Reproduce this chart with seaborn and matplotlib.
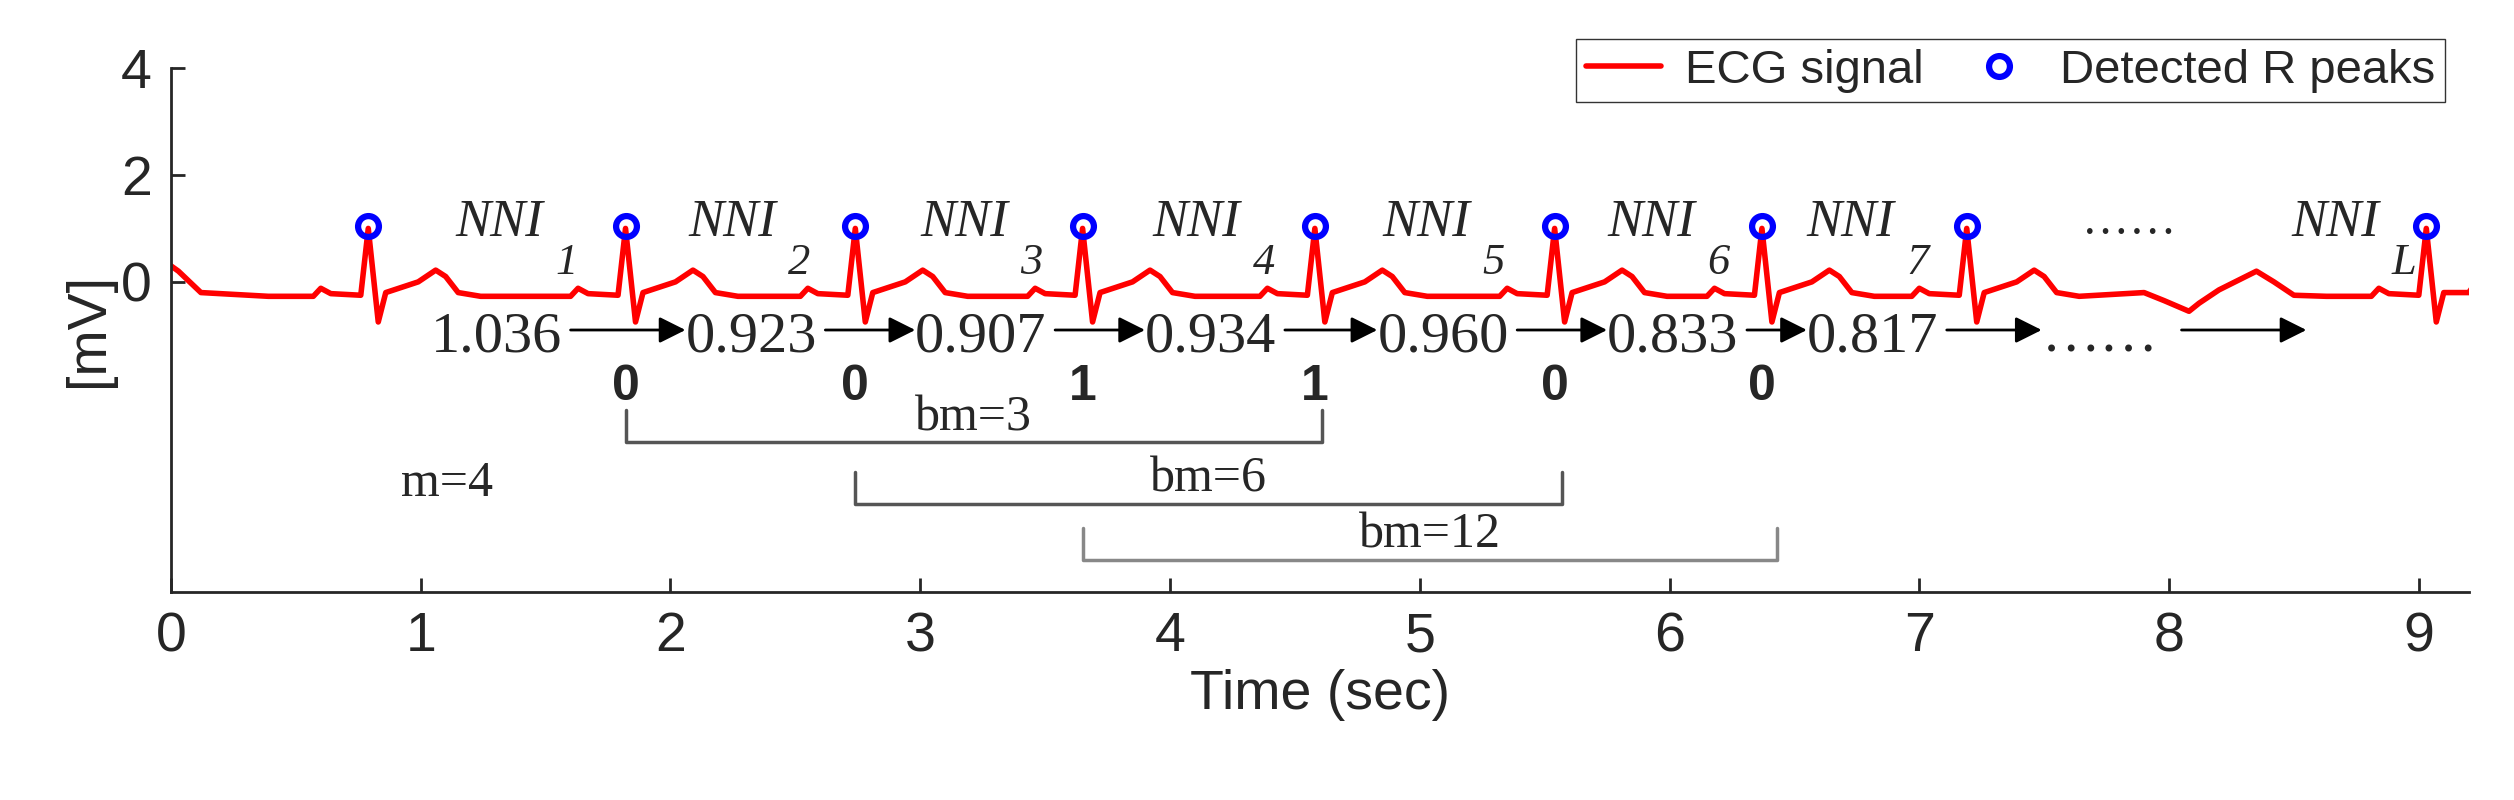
import numpy as np
import pandas as pd
import seaborn as sns
import matplotlib.pyplot as plt

sns.set_style('ticks')
plt.rcParams['font.family'] = ['Liberation Sans', 'DejaVu Sans']

# R peak times (sec) and amplitudes (mV)
r_times = [0.79, 1.82, 2.74, 3.65, 4.58, 5.54, 6.37, 7.19, 9.03]
r_vals = [1.0, 1.0, 1.0, 1.0, 1.0, 1.0, 1.0, 1.0, 1.0]
# one beat: offset from R peak (sec), value (mV)
beat_dt = [-0.40, -0.22, -0.19, -0.15, -0.03, 0.0, 0.04, 0.07, 0.20, 0.27, 0.31, 0.36, 0.45]
beat_v = [-0.27, -0.27, -0.12, -0.22, -0.25, 1.0, -0.75, -0.2, 0.0, 0.22, 0.1, -0.2, -0.27]
start_t = [0.0, 0.03, 0.12]
start_v = [0.3, 0.2, -0.2]
# irregular stretch between 7.6 and 8.6 sec (undetected beat)
gap_t = [7.9, 7.98, 8.08, 8.12, 8.2, 8.35, 8.42, 8.5]
gap_v = [-0.2, -0.35, -0.55, -0.4, -0.15, 0.2, 0.0, -0.25]
end_t = [9.2]
end_v = [-0.2]

nni_labels = ['1', '2', '3', '4', '5', '6', '7']
nni_x = [1.14, 2.07, 3.0, 3.93, 4.85, 5.75, 6.55]
nni_values = ['1.036', '0.923', '0.907', '0.934', '0.960', '0.833', '0.817', '……']
nni_val_x = [1.04, 2.06, 2.98, 3.90, 4.83, 5.75, 6.55, 7.49]
bits = ['0', '0', '1', '1', '0', '0']
bm_labels = ['bm=3', 'bm=6', 'bm=12']
bm_start = [1.82, 2.74, 3.65]
bm_end = [4.61, 5.57, 6.43]
bm_y = [-3.0, -4.15, -5.2]
bm_colors = ['#555555', '#555555', '#888888']

# assemble signal
t, v = list(start_t), list(start_v)
for rt, rv in zip(r_times, r_vals):
    if rt > 8.6:
        t += gap_t
        v += gap_v
    for dt, bv in zip(beat_dt, beat_v):
        tt = rt + dt
        if tt > t[-1]:
            t.append(tt)
            v.append(bv * rv if bv > 0.9 else bv)
t += end_t
v += end_v
sig = pd.DataFrame({'t': t, 'v': v})
peaks = pd.DataFrame({'t': r_times, 'v': [x + 0.05 for x in r_vals]})

fig, ax = plt.subplots(figsize=(25.14, 8), dpi=100)
fig.subplots_adjust(left=0.068, right=0.982, top=0.915, bottom=0.26)
sns.lineplot(data=sig, x='t', y='v', color='red', lw=4, ax=ax, label='ECG signal')
ax.plot(peaks['t'], peaks['v'], 'o', ms=15, mfc='none', mec='blue', mew=4.5,
        label='Detected R peaks')

serif = ['Liberation Serif', 'DejaVu Serif']
for lab, x in zip(nni_labels, nni_x):
    ax.text(x, 0.85, 'NNI', fontsize=38, family=serif, style='italic')
    ax.text(x + 0.4, 0.15, lab, fontsize=32, family=serif, style='italic')
ax.text(8.49, 0.85, 'NNI', fontsize=38, family=serif, style='italic')
ax.text(8.89, 0.15, 'L', fontsize=32, family=serif, style='italic')
ax.text(7.65, 0.9, '……', fontsize=34, family=serif)

for i, (s, x) in enumerate(zip(nni_values, nni_val_x)):
    ax.text(x, -1.3, s, fontsize=42, family=serif)
    x_end = x + 0.56
    x_next = nni_val_x[i + 1] if i + 1 < len(nni_val_x) else 8.55
    ax.annotate('', xy=(x_next, -0.9), xytext=(x_end, -0.9),
                arrowprops=dict(arrowstyle='-|>', color='black', lw=2,
                                mutation_scale=40, shrinkA=0, shrinkB=0))
for b, x in zip(bits, r_times[1:7]):
    ax.text(x, -2.2, b, fontsize=36, fontweight='bold', ha='center')

for lab, x0, x1, y, c in zip(bm_labels, bm_start, bm_end, bm_y, bm_colors):
    ax.plot([x0, x0, x1, x1], [y + 0.6, y, y, y + 0.6], color=c, lw=2.5)
    ax.text((x0 + x1) / 2, y + 0.02, lab, fontsize=36, family=serif, ha='center', va='bottom')
ax.text(0.92, -4.0, 'm=4', fontsize=36, family=serif)

ax.set_xlim(0, 9.2)
ax.set_ylim(-5.8, 4)
ax.set_xticks(range(10))
ax.set_yticks([0, 2, 4])
ax.tick_params(labelsize=40, direction='in', length=10, width=2, pad=14)
ax.set_xlabel('Time (sec)', fontsize=40)
ax.set_ylabel('[mV]', fontsize=40)
sns.despine(ax=ax)
for sp in ax.spines.values():
    sp.set_linewidth(2)
ax.legend(loc='upper right', fontsize=34, handlelength=1.6, handletextpad=0.5,
          borderpad=0.2, ncol=2, columnspacing=0.8, fancybox=False,
          edgecolor='black', bbox_to_anchor=(1.0, 1.1))
fig.savefig('out.png')
